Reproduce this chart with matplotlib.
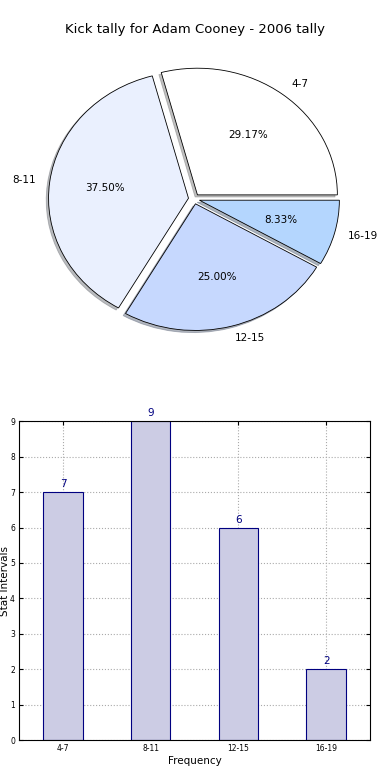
import matplotlib
matplotlib.use("Agg")
import matplotlib.pyplot as plt

# kick tally data
intervals = ["4-7", "8-11", "12-15", "16-19"]
counts = [7, 9, 6, 2]
pie_colors = ["#ffffff", "#eaf0fe", "#c6d8fe", "#b4d6fe"]
explode = [0.04, 0.04, 0.04, 0.04]

fig = plt.figure(figsize=(3.9, 7.8), dpi=100)
fig.patch.set_facecolor("white")

# pie on top
axp = fig.add_axes([0.049, 0.542, 0.897, 0.406])
wedges, texts, autotexts = axp.pie(counts, labels=intervals, colors=pie_colors,
                                   explode=explode, autopct="%1.2f%%",
                                   shadow={"ox": -0.012, "oy": -0.012, "shade": 0.5},
                                   startangle=0,
                                   wedgeprops={"edgecolor": "black", "linewidth": 0.6},
                                   textprops={"fontsize": 7.5})
axp.set_aspect("auto")
axp.set_xlim(-1.25, 1.25)
axp.set_ylim(-1.25, 1.25)
axp.axis("off")
fig.text(0.5, 0.962, "Kick tally for Adam Cooney - 2006 tally", ha="center", va="center", fontsize=9.5)

# bar chart below
axb = fig.add_axes([0.049, 0.051, 0.9, 0.409])
x = range(len(intervals))
bars = axb.bar(x, counts, width=0.45, color="#ccccE4", edgecolor="navy", linewidth=0.8, zorder=2)
for xi, c in zip(x, counts):
    axb.text(xi, c + 0.08, str(c), ha="center", va="bottom", color="navy", fontsize=7.5)
axb.set_xlim(-0.5, 3.5)
axb.set_ylim(0, 9)
axb.set_xticks(list(x))
axb.set_xticklabels(intervals)
axb.set_yticks(range(10))
axb.tick_params(direction="in", labelsize=5.5, top=True, right=True, length=3, pad=3)
axb.grid(True, color="#aaaaaa", linestyle=":", linewidth=0.8, zorder=3)
axb.set_xlabel("Frequency", fontsize=7.5, labelpad=2)
axb.set_ylabel("Stat Intervals", fontsize=7.5, labelpad=0)

fig.savefig("out.png", dpi=100, facecolor="white")
